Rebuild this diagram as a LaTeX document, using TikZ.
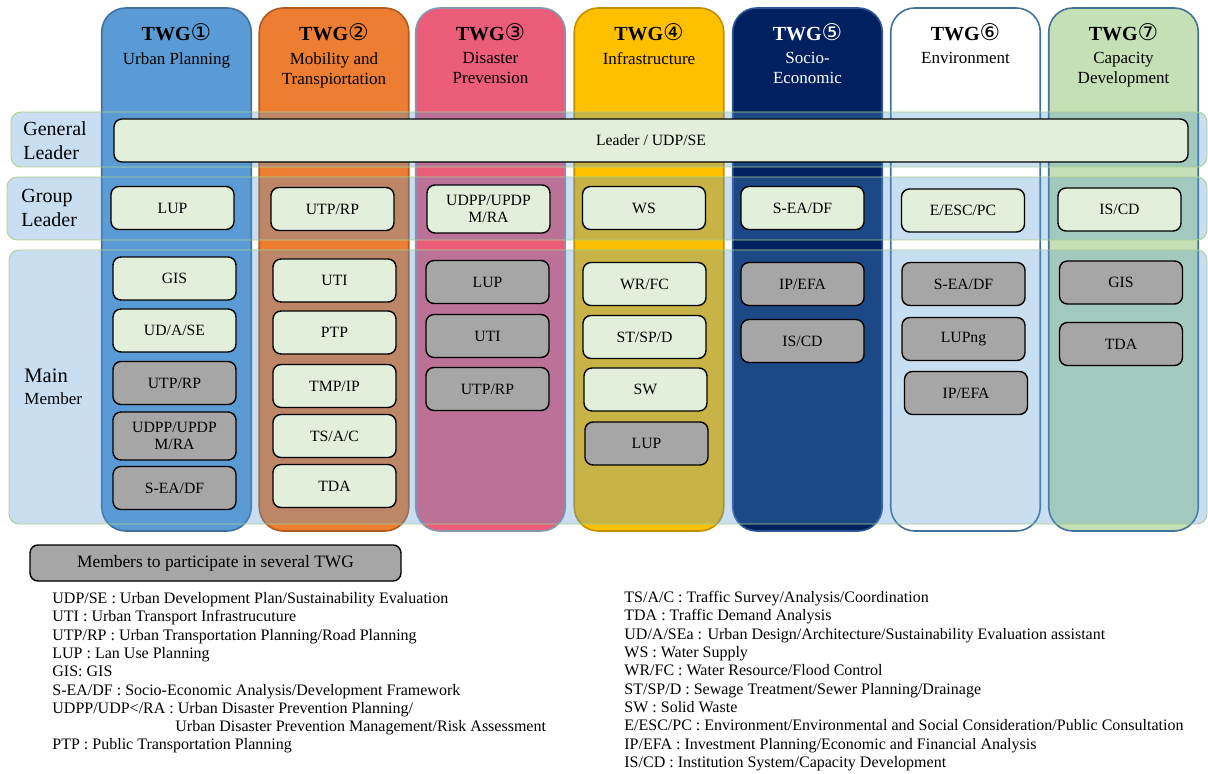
\documentclass[tikz,border=0pt]{standalone}
\usepackage{fontspec}
\setmainfont{Liberation Serif}
\newfontfamily\circfont{DejaVu Sans}
\usepackage{tikz}

\definecolor{twgblue}{HTML}{5B9BD5}
\definecolor{twgorange}{HTML}{ED7D31}
\definecolor{twgpink}{HTML}{EC5D7A}
\definecolor{twgyellow}{HTML}{FFC000}
\definecolor{twgnavy}{HTML}{002060}
\definecolor{twggreen}{HTML}{C5E0B4}
\definecolor{edgeblue}{HTML}{41719C}
\definecolor{edgeorange}{HTML}{AE5A21}
\definecolor{edgegray}{HTML}{8497B0}
\definecolor{edgeyellow}{HTML}{BF9000}
\definecolor{edgenavy}{HTML}{2F5597}
\definecolor{bandblue}{HTML}{5B9BD5}
\definecolor{bandgreen}{HTML}{A9D18E}
\definecolor{boxgreen}{HTML}{E2EFDA}
\definecolor{boxgray}{HTML}{A6A6A6}

\newcommand{\twgnum}[1]{{\circfont\mdseries\fontsize{11.5}{12}\selectfont #1}}

\begin{document}
\begin{tikzpicture}[x=0.5pt,y=-0.5pt,
  twgcol/.style={shape=rectangle, rounded corners=12pt, minimum width=74.75pt, minimum height=261.5pt, line width=0.8pt},
  band/.style={shape=rectangle, rounded corners=5pt, fill=bandblue, fill opacity=0.33, draw=bandgreen, draw opacity=1, line width=0.45pt},
  memlight/.style={shape=rectangle, rounded corners=4pt, draw=black, fill=boxgreen, line width=0.7pt, minimum width=61.5pt, minimum height=21.5pt, inner sep=0pt, align=center, font=\fontsize{7.85}{8.2}\selectfont},
  memgray/.style={memlight, fill=boxgray},
  twgtitle/.style={anchor=base, font=\bfseries\fontsize{10}{12}\selectfont},
  twgsub/.style={anchor=north, inner sep=0pt, align=center, font=\fontsize{8.5}{10}\selectfont},
  rowlabel/.style={anchor=north west, inner sep=0pt, align=left, font=\fontsize{10}{12}\selectfont},
  note/.style={anchor=north west, inner sep=0pt, align=left, font=\fontsize{8}{9.15}\selectfont}]
\useasboundingbox (0,0) rectangle (1208,774);

% TWG columns
\node[twgcol, fill=twgblue, draw=edgeblue](twg1) at (176.5,269.5) {};
\node[twgcol, fill=twgorange, draw=edgeorange](twg2) at (334,269.5) {};
\node[twgcol, fill=twgpink, draw=edgegray](twg3) at (490.5,269.5) {};
\node[twgcol, fill=twgyellow, draw=edgeyellow](twg4) at (649,269.5) {};
\node[twgcol, fill=twgnavy, draw=edgenavy](twg5) at (807.5,269.5) {};
\node[twgcol, fill=white, draw=edgeblue](twg6) at (965.5,269.5) {};
\node[twgcol, fill=twggreen, draw=edgeblue](twg7) at (1123.5,269.5) {};

\node[twgtitle](t1) at (176.5,41) {TWG\twgnum{①}};
\node[twgtitle](t2) at (334,41) {TWG\twgnum{②}};
\node[twgtitle](t3) at (490.5,41) {TWG\twgnum{③}};
\node[twgtitle](t4) at (649,41) {TWG\twgnum{④}};
\node[twgtitle, text=white](t5) at (807.5,41) {TWG\twgnum{⑤}};
\node[twgtitle](t6) at (965.5,41) {TWG\twgnum{⑥}};
\node[twgtitle](t7) at (1123.5,41) {TWG\twgnum{⑦}};

\node[twgsub](s1) at (176.5,52) {Urban Planning};
\node[twgsub](s2) at (334,52) {Mobility and\\Transpiortation};
\node[twgsub](s3) at (490.5,52) {Disaster\\Prevension};
\node[twgsub](s4) at (649,52) {Infrastructure};
\node[twgsub, text=white](s5) at (807.5,52) {Socio-\\Economic};
\node[twgsub](s6) at (965.5,52) {Environment};
\node[twgsub](s7) at (1123.5,52) {Capacity\\Development};

% rows
\node[band, minimum width=598pt, minimum height=27.5pt](rowgen) at (609,139.5) {};
\node[band, minimum width=600pt, minimum height=31.5pt](rowgrp) at (607,208.5) {};
\node[band, minimum width=599pt, minimum height=137pt](rowmain) at (608,387) {};

\node[rowlabel](lgen) at (23,121) {General\\Leader};
\node[rowlabel](lgrp) at (21,189) {Group\\Leader};
\node[anchor=base west, inner sep=0pt, font=\fontsize{10.3}{12}\selectfont](lmain) at (24,383) {Main};
\node[anchor=base west, inner sep=0pt, font=\fontsize{8.5}{10}\selectfont](lmem) at (24,405) {Member};

% general leader
\node[memlight, minimum width=537pt](gen) at (651,140.5) {Leader / UDP/SE};

% group leaders
\node[memlight](g1) at (172.5,208) {LUP};
\node[memlight](g2) at (332.5,209) {UTP/RP};
\node[memlight, minimum height=24pt](g3) at (488.5,209) {UDPP/UPDP\\M/RA};
\node[memlight](g4) at (644,208) {WS};
\node[memlight](g5) at (802.5,208) {S-EA/DF};
\node[memlight](g6) at (963,210.5) {E/ESC/PC};
\node[memlight](g7) at (1119.5,209.5) {IS/CD};

% main members
\node[memlight](m1a) at (174.5,278.5) {GIS};
\node[memlight](m1b) at (174.5,330.5) {UD/A/SE};
\node[memgray](m1c) at (174.5,383) {UTP/RP};
\node[memgray, minimum height=24pt](m1d) at (174.5,436) {UDPP/UPDP\\M/RA};
\node[memgray](m1e) at (174.5,488) {S-EA/DF};

\node[memlight](m2a) at (334.5,280.5) {UTI};
\node[memlight](m2b) at (334.5,332.5) {PTP};
\node[memlight](m2c) at (334.5,386) {TMP/IP};
\node[memlight](m2d) at (334.5,436) {TS/A/C};
\node[memlight](m2e) at (334.5,486) {TDA};

\node[memgray](m3a) at (487.5,282) {LUP};
\node[memgray](m3b) at (487.5,336) {UTI};
\node[memgray](m3c) at (487.5,389) {UTP/RP};

\node[memlight](m4a) at (644.5,284) {WR/FC};
\node[memlight](m4b) at (644.5,337) {ST/SP/D};
\node[memlight](m4c) at (645.5,389.5) {SW};
\node[memgray](m4d) at (646.5,443.5) {LUP};

\node[memgray](m5a) at (802.5,284) {IP/EFA};
\node[memgray](m5b) at (802.5,341) {IS/CD};

\node[memgray](m6a) at (963.5,284) {S-EA/DF};
\node[memgray](m6b) at (963.5,339) {LUPng};
\node[memgray](m6c) at (966,393) {IP/EFA};

\node[memgray](m7a) at (1121,282.5) {GIS};
\node[memgray](m7b) at (1121,344) {TDA};

% legend
\node[memgray, minimum width=185.5pt, minimum height=18pt, font=\fontsize{8.7}{10}\selectfont](legend) at (215.5,563) {Members to participate in several TWG};

\node[note](abbrL) at (52,592) {UDP/SE : Urban Development Plan/Sustainability Evaluation\\
UTI : Urban Transport Infrastrucuture\\
UTP/RP : Urban Transportation Planning/Road Planning\\
LUP : Lan Use Planning\\
GIS: GIS\\
S-EA/DF : Socio-Economic Analysis/Development Framework\\
UDPP/UDP</RA : Urban Disaster Prevention Planning/\\
\hspace*{61.5pt}Urban Disaster Prevention Management/Risk Assessment\\
PTP : Public Transportation Planning};

\node[note](abbrR) at (624,591) {TS/A/C : Traffic Survey/Analysis/Coordination\\
TDA : Traffic Demand Analysis\\
UD/A/SEa : Urban Design/Architecture/Sustainability Evaluation assistant\\
WS : Water Supply\\
WR/FC : Water Resource/Flood Control\\
ST/SP/D : Sewage Treatment/Sewer Planning/Drainage\\
SW : Solid Waste\\
E/ESC/PC : Environment/Environmental and Social Consideration/Public Consultation\\
IP/EFA : Investment Planning/Economic and Financial Analysis\\
IS/CD : Institution System/Capacity Development};
\end{tikzpicture}
\end{document}
